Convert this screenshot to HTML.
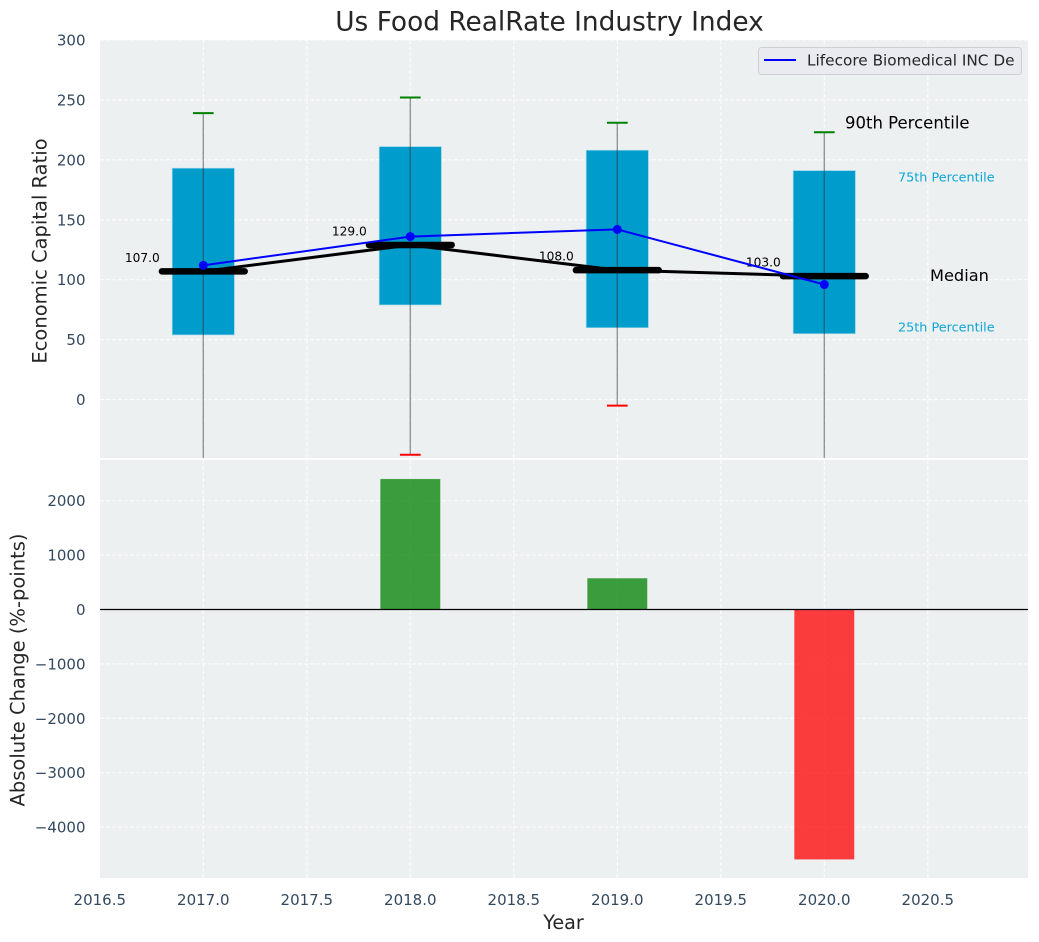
<!DOCTYPE html>
<html>
<head>
<meta charset="utf-8">
<title>Us Food RealRate Industry Index</title>
<style>
html,body{margin:0;padding:0;background:#fff;width:1039px;height:942px;overflow:hidden}
svg{display:block;font-family:"DejaVu Sans","Liberation Sans",sans-serif}
</style>
</head>
<body>
<svg id="chart" xmlns="http://www.w3.org/2000/svg" width="1039" height="942" viewBox="0 0 1039 942">
<defs>
<clipPath id="top-clip"><rect x="100" y="40" width="928" height="418"/></clipPath>
<clipPath id="bottom-clip"><rect x="100" y="460" width="928" height="418"/></clipPath>
</defs>
</svg>
<script>
const years = [2017, 2018, 2019, 2020];
const p10 = [-100, -46, -5, -100];
const p25 = [54, 79, 60, 55];
const median = [107, 129, 108, 103];
const p75 = [193, 211, 208, 191];
const p90 = [239, 252, 231, 223];
const company = [112, 136, 142, 96];
const absChange = [0, 2400, 575, -4595];
const xTicks = [2016.5, 2017, 2017.5, 2018, 2018.5, 2019, 2019.5, 2020, 2020.5];
const topTicks = [0, 50, 100, 150, 200, 250, 300];
const bottomTicks = [-4000, -3000, -2000, -1000, 0, 1000, 2000];

const NS = 'http://www.w3.org/2000/svg';
const svg = document.getElementById('chart');
const L = 100, R = 1028, T1 = 40, B1 = 458, T2 = 460, B2 = 878;
const TICK = '#34495e';
const xs = v => 203.3 + (v - 2017) * 207;
const y1 = v => 399.6 - v * 1.1987;
const y2 = v => 609.5 - v * 0.0544;
const fmtX = v => v.toFixed(1);
const fmtY = v => (v < 0 ? '\u2212' + Math.abs(v) : String(v));

function mk(parent, tag, attrs, text) {
  const el = document.createElementNS(NS, tag);
  for (const k in attrs) el.setAttribute(k, attrs[k]);
  if (text !== undefined) el.textContent = text;
  parent.appendChild(el);
  return el;
}
let el;

// title
el = mk(svg, 'text', {x: 549.5, y: 30.5, 'text-anchor': 'middle', 'font-size': 26.4, fill: '#262626'}, 'Us Food RealRate Industry Index');



// panels
el = mk(svg, 'rect', {x: L, y: T1, width: R - L, height: B1 - T1, fill: '#ecf0f1'});


el = mk(svg, 'rect', {x: L, y: T2, width: R - L, height: B2 - T2, fill: '#ecf0f1'});



const gridAttrs = {stroke: '#ffffff', 'stroke-width': 1.1, 'stroke-dasharray': '4 2', opacity: 0.8};

// vertical grid + x tick labels
xTicks.forEach(t => {
  const x = xs(t);
  if (x > L + 1) {
    el = mk(svg, 'line', Object.assign({x1: x, x2: x, y1: T1, y2: B1}, gridAttrs));
    
    
    el = mk(svg, 'line', Object.assign({x1: x, x2: x, y1: T2, y2: B2}, gridAttrs));
    
    
  }
  el = mk(svg, 'text', {x: x, y: 905, 'text-anchor': 'middle', 'font-size': 15, fill: TICK}, fmtX(t));
  
  
});

// top y grid + labels
topTicks.forEach(t => {
  const y = y1(t);
  el = mk(svg, 'line', Object.assign({x1: L, x2: R, y1: y, y2: y}, gridAttrs));
  
  
  el = mk(svg, 'text', {x: 85.5, y: y + 5.5, 'text-anchor': 'end', 'font-size': 15, fill: TICK}, fmtY(t));
  
  
});

// bottom y grid + labels
bottomTicks.forEach(t => {
  const y = y2(t);
  el = mk(svg, 'line', Object.assign({x1: L, x2: R, y1: y, y2: y}, gridAttrs));
  
  
  el = mk(svg, 'text', {x: 85.5, y: y + 5.5, 'text-anchor': 'end', 'font-size': 15, fill: TICK}, fmtY(t));
  
  
});

// top marks
const topG = mk(svg, 'g', {'clip-path': 'url(#top-clip)'});


const BOX = 0.3, CAP = 0.1, MED = 0.4;

years.forEach((yr, i) => {
  const x = xs(yr);
  el = mk(topG, 'rect', {x: xs(yr - BOX / 2), y: y1(p75[i]), width: xs(yr + BOX / 2) - xs(yr - BOX / 2), height: y1(p25[i]) - y1(p75[i]), fill: '#009ccc', stroke: '#8fd0e6', 'stroke-width': 0.7});
  
  
  el = mk(topG, 'line', {x1: x, x2: x, y1: y1(p90[i]), y2: y1(p10[i]), stroke: '#333333', 'stroke-width': 1.4, opacity: 0.5});
  
  
  el = mk(topG, 'line', {x1: xs(yr - CAP / 2), x2: xs(yr + CAP / 2), y1: y1(p90[i]), y2: y1(p90[i]), stroke: '#008000', 'stroke-width': 2});
  
  
  el = mk(topG, 'line', {x1: xs(yr - CAP / 2), x2: xs(yr + CAP / 2), y1: y1(p10[i]), y2: y1(p10[i]), stroke: '#ff0000', 'stroke-width': 2});
  
  
});

el = mk(topG, 'polyline', {points: years.map((yr, i) => xs(yr) + ',' + y1(median[i])).join(' '), fill: 'none', stroke: '#000', 'stroke-width': 3, 'stroke-linejoin': 'round'});



years.forEach((yr, i) => {
  el = mk(topG, 'line', {x1: xs(yr - MED / 2), x2: xs(yr + MED / 2), y1: y1(median[i]), y2: y1(median[i]), stroke: '#000', 'stroke-width': 6.5, 'stroke-linecap': 'round'});
  
  
  el = mk(topG, 'text', {x: xs(yr) - 61, y: y1(median[i]) - 9.5, 'text-anchor': 'middle', 'font-size': 12.2, fill: '#000'}, median[i].toFixed(1));
  
  
});

el = mk(topG, 'polyline', {points: years.map((yr, i) => xs(yr) + ',' + y1(company[i])).join(' '), fill: 'none', stroke: '#0000ff', 'stroke-width': 2});


years.forEach((yr, i) => {
  el = mk(topG, 'circle', {cx: xs(yr), cy: y1(company[i]), r: 4.5, fill: '#0000ff'});
  
  
});

// percentile annotations, positioned from the last year's values
const last = years.length - 1;
el = mk(svg, 'text', {x: 845, y: y1(p90[last]) - 4, 'font-size': 16.5, fill: '#000'}, '90th Percentile');


el = mk(svg, 'text', {x: 898, y: y1(p75[last]) + 11, 'font-size': 12.8, fill: '#0ea5d6'}, '75th Percentile');


el = mk(svg, 'text', {x: 930, y: y1(median[last]) + 5, 'font-size': 16.2, fill: '#000'}, 'Median');


el = mk(svg, 'text', {x: 898, y: y1(p25[last]) - 2, 'font-size': 12.8, fill: '#0ea5d6'}, '25th Percentile');



// legend
const lg = mk(svg, 'g', {});


el = mk(lg, 'rect', {x: 758.5, y: 47.5, width: 263, height: 27, rx: 3, fill: '#eaeaf2', stroke: '#cccccc', 'stroke-width': 1, opacity: 0.9});


el = mk(lg, 'line', {x1: 764, x2: 796, y1: 60, y2: 60, stroke: '#0000ff', 'stroke-width': 2});


el = mk(lg, 'text', {x: 807, y: 65.5, 'font-size': 15.3, fill: '#262626'}, 'Lifecore Biomedical INC De');



// bottom bars
const botG = mk(svg, 'g', {'clip-path': 'url(#bottom-clip)'});


const BAR = 0.29;
years.forEach((yr, i) => {
  const v = absChange[i];
  if (v === 0) return;
  const a = y2(Math.max(v, 0)), b = y2(Math.min(v, 0));
  el = mk(botG, 'rect', {x: xs(yr - BAR / 2), y: a, width: xs(yr + BAR / 2) - xs(yr - BAR / 2), height: b - a, fill: v > 0 ? '#008000' : '#ff0000', 'fill-opacity': 0.75, stroke: '#ffffff', 'stroke-opacity': 0.15, 'stroke-width': 0.7});
  
  
});
el = mk(svg, 'line', {x1: L, x2: R, y1: y2(0), y2: y2(0), stroke: '#000', 'stroke-width': 1.2});



// axis titles
el = mk(svg, 'text', {x: 563.5, y: 929, 'text-anchor': 'middle', 'font-size': 19.2, fill: '#262626'}, 'Year');


el = mk(svg, 'text', {transform: 'translate(46.5,251) rotate(-90)', 'text-anchor': 'middle', 'font-size': 19.5, fill: '#262626'}, 'Economic Capital Ratio');


el = mk(svg, 'text', {transform: 'translate(24.5,670) rotate(-90)', 'text-anchor': 'middle', 'font-size': 19.5, fill: '#262626'}, 'Absolute Change (%-points)');


</script>
</body>
</html>
